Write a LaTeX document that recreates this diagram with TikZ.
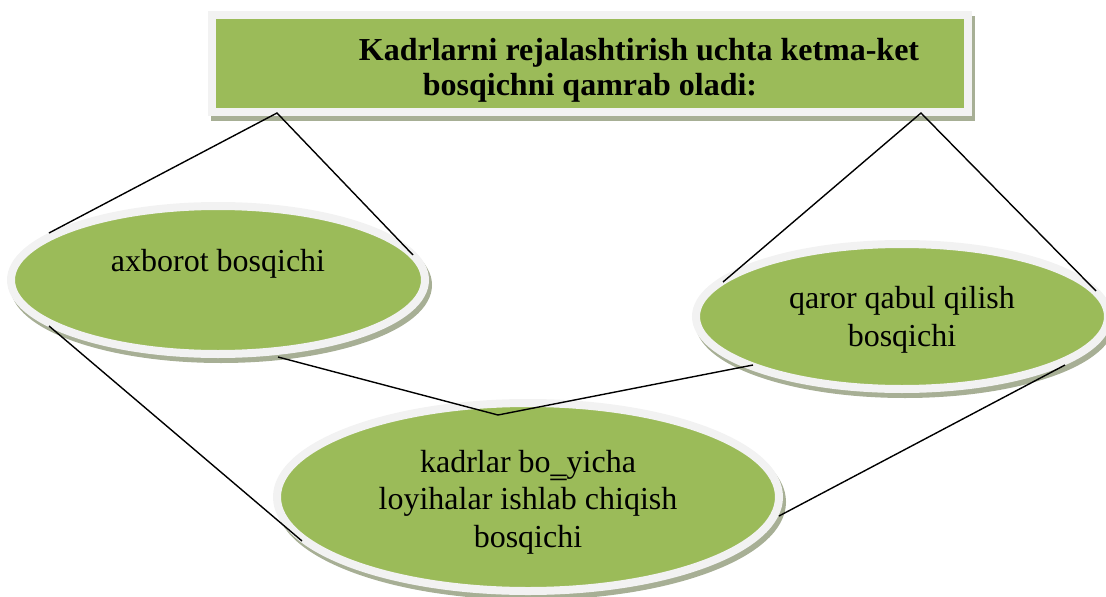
\documentclass[tikz,border=0pt]{standalone}
\usepackage{fontspec}
\setmainfont{Liberation Serif}
\usetikzlibrary{shapes.geometric,shadows}
\definecolor{leaf}{HTML}{9BBB59}
\definecolor{rim}{HTML}{F2F2F2}
\definecolor{shade}{HTML}{A7AF95}
\tikzset{
  rimshadow/.style={drop shadow={shadow xshift=3pt, shadow yshift=-5pt,
      fill=shade, draw=shade, line width=8pt, opacity=1}},
  stage/.style={ellipse, fill=leaf, draw=rim, line width=8pt, inner sep=0pt, rimshadow},
  titlebox/.style={rectangle, fill=leaf, draw=rim, line width=8pt, inner sep=0pt, rimshadow},
  stagetext/.style={inner sep=0pt, align=center, font=\fontsize{32}{37.5}\selectfont},
  headtext/.style={inner sep=0pt, align=center, font=\fontsize{32}{35}\selectfont\bfseries},
  link/.style={draw=black, line width=1.4pt, line join=miter},
}
\begin{document}
\begin{tikzpicture}[x=1pt,y=-1pt]
\useasboundingbox (0,0) rectangle (1106,597);
\clip (0,0) rectangle (1106,597);

% heading panel
\node[titlebox, minimum width=756pt, minimum height=97pt] (head) at (590,63.5) {};
\node[headtext] (headtext) at (590,70.5)
  {\hspace*{98pt}Kadrlarni rejalashtirish uchta ketma-ket\\bosqichni qamrab oladi:};

% the three stages
\node[stage, minimum width=414pt, minimum height=148pt] (info) at (218,280) {};
\node[stage, minimum width=412pt, minimum height=145pt] (decide) at (902,316.5) {};
\node[stage, minimum width=502pt, minimum height=188pt] (design) at (528,497) {};

\node[stagetext] (infotext) at (218,263.5) {axborot bosqichi};
\node[stagetext] (decidetext) at (902,319.6) {qaror qabul qilish\\bosqichi};
\node[stagetext] (designtext) at (528,502)
  {kadrlar bo‗yicha\\loyihalar ishlab chiqish\\bosqichi};

% connector ends
\coordinate (p1) at (49,233);
\coordinate (p2) at (277,113);
\coordinate (p3) at (413,255);
\coordinate (q1) at (723,282);
\coordinate (q2) at (921,113);
\coordinate (q3) at (1096,291);
\coordinate (r1) at (49,326);
\coordinate (r2) at (302,541);
\coordinate (s1) at (278,357);
\coordinate (s2) at (498,415);
\coordinate (s3) at (753,365);
\coordinate (t1) at (1065,365);
\coordinate (t2) at (779,516);

\draw[link] (p1) -- (p2) -- (p3);
\draw[link] (q1) -- (q2) -- (q3);
\draw[link] (r1) -- (r2);
\draw[link] (s1) -- (s2) -- (s3);
\draw[link] (t1) -- (t2);
\end{tikzpicture}
\end{document}
